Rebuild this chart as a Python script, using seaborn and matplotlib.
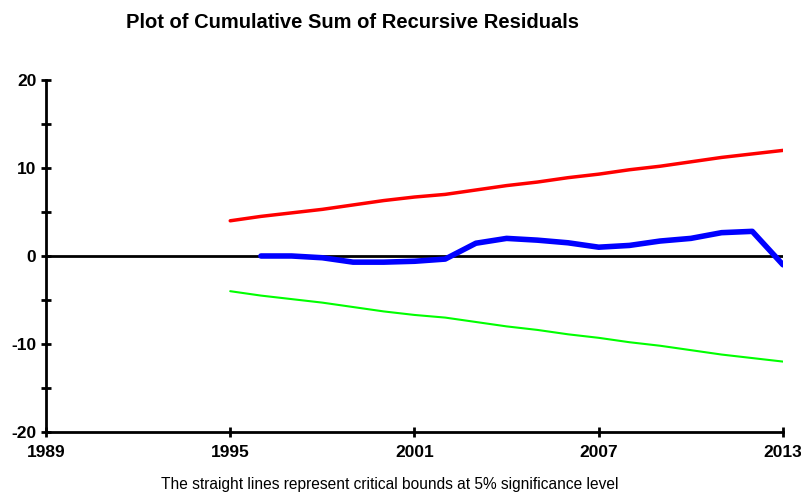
from matplotlib import pyplot as plt
import seaborn as sns
import pandas as pd

sns.set_style("white")
plt.rcParams['font.family'] = ['Liberation Sans', 'DejaVu Sans']
plt.rcParams['axes.unicode_minus'] = False

# 数据
years = list(range(1995, 2014))
upper = [4.0, 4.5, 4.9, 5.3, 5.8, 6.3, 6.7, 7.0, 7.5, 8.0,
         8.4, 8.9, 9.3, 9.8, 10.2, 10.7, 11.2, 11.6, 12.0]
lower = [-v for v in upper]
cusum_years = list(range(1996, 2014))
cusum = [0.0, 0.0, -0.2, -0.7, -0.7, -0.6, -0.35, 1.45, 2.0, 1.8,
         1.5, 1.0, 1.2, 1.7, 2.0, 2.65, 2.8, -1.0]

xticks = [1989, 1995, 2001, 2007, 2013]
yticks = [-20, -10, 0, 10, 20]

bounds = pd.DataFrame({"year": years, "upper": upper, "lower": lower})
cs = pd.DataFrame({"year": cusum_years, "cusum": cusum})

fig = plt.figure(figsize=(8.01, 4.95), dpi=100)
ax = fig.add_axes([0.0574, 0.1273, 0.9201, 0.7111])

ax.axhline(0, color="black", lw=2, zorder=1)
sns.lineplot(data=bounds, x="year", y="upper", color="#ff0000", lw=2.5, ax=ax)
sns.lineplot(data=bounds, x="year", y="lower", color="#00ff00", lw=1.5, ax=ax)
sns.lineplot(data=cs, x="year", y="cusum", color="#0000ff", lw=4, ax=ax)

ax.set_xlim(1989, 2013)
ax.set_ylim(-20, 20)
ax.set_xticks(xticks)
ax.set_yticks(yticks)
ax.set_yticks([-15, -5, 5, 15], minor=True)
ax.set_xlabel("")
ax.set_ylabel("")

for s in ["top", "right"]:
    ax.spines[s].set_visible(False)
for s in ["left", "bottom"]:
    ax.spines[s].set_linewidth(2)
    ax.spines[s].set_color("black")

ax.tick_params(axis="both", which="both", direction="inout", length=7, width=2,
               colors="black", labelsize=12.5, bottom=True, left=True)
ax.tick_params(axis="x", pad=6)
for lab in ax.get_xticklabels() + ax.get_yticklabels():
    lab.set_fontweight("bold")

fig.text(0.44, 0.955, "Plot of Cumulative Sum of Recursive Residuals",
         ha="center", va="center", fontsize=14.5, fontweight="bold", color="black")
fig.text(0.487, 0.022, "The straight lines represent critical bounds at 5% significance level",
         ha="center", va="center", fontsize=11.2, color="black")

plt.savefig("out.png", dpi=100)
